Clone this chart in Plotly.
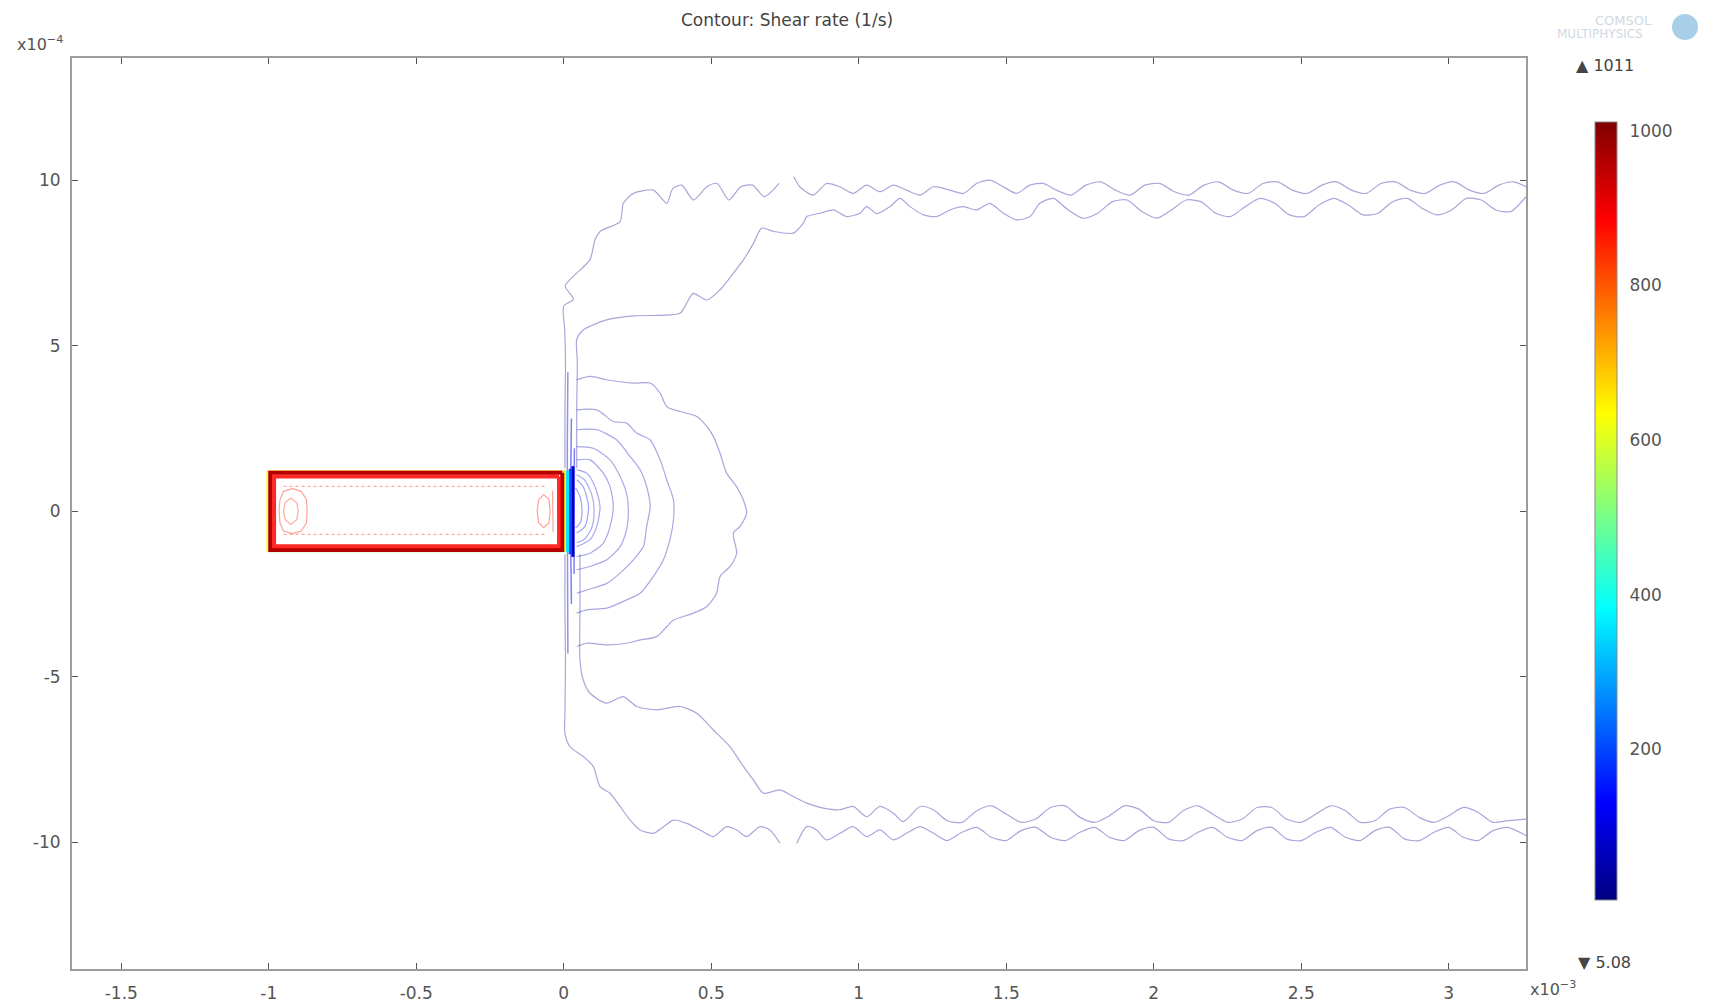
import plotly.graph_objects as go
from plotly.colors import sample_colorscale

# ---------------- axes / colour bar definitions ----------------
x_tick_vals = [-1.5, -1, -0.5, 0, 0.5, 1, 1.5, 2, 2.5, 3]
x_tick_text = ["-1.5", "-1", "-0.5", "0", "0.5", "1", "1.5", "2", "2.5", "3"]
y_tick_vals = [-10, -5, 0, 5, 10]
y_tick_text = ["-10", "-5", "0", "5", "10"]
x_range = [-1.667, 3.262]
y_range = [-13.83, 13.69]
cbar_tick_vals = [200, 400, 600, 800, 1000]
cbar_min = 5.08
cbar_max = 1011

jet = [[0.0, "rgb(0,0,128)"], [0.125, "rgb(0,0,255)"], [0.375, "rgb(0,255,255)"],
       [0.625, "rgb(255,255,0)"], [0.875, "rgb(255,0,0)"], [1.0, "rgb(128,0,0)"]]

# ---------------- contour lines (x in 1e-3 m, y in 1e-4 m) ----------------
upper_outer = [(0.004, 1.30), (0.004, 3.00), (0.006, 4.50), (0.003, 5.50), (0.000, 6.20), (0.033, 6.40),
               (0.005, 6.80), (0.033, 7.10), (0.089, 7.60), (0.106, 8.20), (0.123, 8.45), (0.191, 8.75),
               (0.202, 9.30), (0.236, 9.60), (0.304, 9.70), (0.349, 9.30), (0.370, 9.75), (0.400, 9.85),
               (0.440, 9.40), (0.485, 9.80), (0.520, 9.90), (0.560, 9.40), (0.600, 9.80), (0.640, 9.85),
               (0.680, 9.50), (0.730, 9.90), (None, None), (0.780, 10.10), (0.800, 9.80), (0.846, 9.55),
               (0.891, 9.90), (0.936, 9.80), (0.981, 9.60), (1.027, 9.85), (1.072, 9.65), (1.117, 9.85),
               (1.162, 9.70), (1.208, 9.55), (1.253, 9.80), (1.309, 9.70), (1.355, 9.60), (1.400, 9.90),
               (1.445, 10.00), (1.490, 9.80), (1.535, 9.60), (1.580, 9.85), (1.625, 9.90), (1.670, 9.70),
               (1.720, 9.55), (1.770, 9.85), (1.820, 9.95), (1.870, 9.70), (1.920, 9.55), (1.970, 9.85),
               (2.020, 9.90), (2.070, 9.65), (2.120, 9.55), (2.170, 9.85), (2.220, 9.95), (2.270, 9.70),
               (2.320, 9.60), (2.370, 9.90), (2.420, 9.95), (2.470, 9.70), (2.520, 9.60), (2.570, 9.85),
               (2.620, 9.95), (2.670, 9.70), (2.720, 9.60), (2.770, 9.90), (2.820, 9.95), (2.870, 9.70),
               (2.920, 9.60), (2.970, 9.85), (3.020, 9.95), (3.070, 9.70), (3.120, 9.60), (3.170, 9.85),
               (3.220, 9.95), (3.262, 9.80)]

upper_inner = [(0.044, 1.30), (0.044, 3.10), (0.046, 4.50), (0.044, 5.18), (0.067, 5.48), (0.145, 5.78),
               (0.236, 5.90), (0.394, 5.98), (0.417, 6.29), (0.439, 6.58), (0.485, 6.38), (0.530, 6.69),
               (0.575, 7.19), (0.609, 7.59), (0.643, 8.09), (0.671, 8.55), (0.711, 8.45), (0.778, 8.40),
               (0.812, 8.70), (0.824, 8.90), (0.869, 9.00), (0.914, 9.10), (0.959, 8.90), (1.004, 9.00),
               (1.027, 9.20), (1.061, 8.99), (1.106, 9.20), (1.140, 9.45), (1.174, 9.20), (1.219, 8.95),
               (1.264, 8.90), (1.309, 9.10), (1.355, 9.20), (1.399, 9.10), (1.445, 9.30), (1.490, 9.00),
               (1.535, 8.80), (1.581, 8.90), (1.614, 9.30), (1.660, 9.45), (1.710, 9.10), (1.760, 8.85),
               (1.810, 9.00), (1.860, 9.35), (1.910, 9.40), (1.960, 9.05), (2.010, 8.85), (2.060, 9.10),
               (2.110, 9.40), (2.160, 9.35), (2.210, 9.00), (2.260, 8.90), (2.310, 9.20), (2.360, 9.45),
               (2.410, 9.30), (2.460, 8.95), (2.510, 8.90), (2.560, 9.25), (2.610, 9.45), (2.660, 9.25),
               (2.710, 8.95), (2.760, 9.00), (2.810, 9.35), (2.860, 9.45), (2.910, 9.15), (2.960, 8.95),
               (3.010, 9.10), (3.060, 9.45), (3.110, 9.40), (3.160, 9.10), (3.210, 9.05), (3.262, 9.50)]

lower_outer = [(0.004, -1.30), (0.004, -3.00), (0.006, -4.50), (0.004, -6.10), (0.004, -6.71), (0.021, -7.11),
               (0.066, -7.41), (0.100, -7.71), (0.123, -8.32), (0.157, -8.52), (0.191, -8.92), (0.225, -9.33),
               (0.259, -9.63), (0.304, -9.73), (0.338, -9.53), (0.372, -9.33), (0.417, -9.43), (0.462, -9.63),
               (0.507, -9.83), (0.552, -9.53), (0.586, -9.63), (0.620, -9.83), (0.665, -9.53), (0.699, -9.63),
               (0.733, -10.03), (None, None), (0.790, -10.03), (0.824, -9.53), (0.857, -9.63), (0.891, -9.93),
               (0.936, -9.73), (0.981, -9.53), (1.027, -9.83), (1.072, -9.63), (1.117, -9.93), (1.162, -9.73),
               (1.208, -9.53), (1.253, -9.73), (1.300, -9.95), (1.350, -9.70), (1.400, -9.55), (1.450, -9.85),
               (1.500, -9.95), (1.550, -9.65), (1.600, -9.55), (1.650, -9.85), (1.700, -9.95), (1.750, -9.70),
               (1.800, -9.55), (1.850, -9.85), (1.900, -9.95), (1.950, -9.65), (2.000, -9.55), (2.050, -9.90),
               (2.100, -9.95), (2.150, -9.70), (2.200, -9.55), (2.250, -9.85), (2.300, -9.95), (2.350, -9.65),
               (2.400, -9.55), (2.450, -9.90), (2.500, -9.95), (2.550, -9.70), (2.600, -9.55), (2.650, -9.85),
               (2.700, -9.95), (2.750, -9.65), (2.800, -9.55), (2.850, -9.90), (2.900, -9.95), (2.950, -9.70),
               (3.000, -9.55), (3.050, -9.85), (3.100, -9.95), (3.150, -9.65), (3.200, -9.55), (3.262, -9.80)]

lower_inner = [(0.055, -1.30), (0.055, -3.00), (0.055, -4.49), (0.066, -5.10), (0.089, -5.50), (0.145, -5.80),
               (0.202, -5.60), (0.247, -5.90), (0.315, -6.00), (0.394, -5.90), (0.450, -6.10), (0.507, -6.61),
               (0.563, -7.11), (0.609, -7.71), (0.643, -8.12), (0.677, -8.52), (0.733, -8.42), (0.778, -8.62),
               (0.824, -8.82), (0.880, -8.97), (0.936, -9.02), (0.981, -8.92), (1.027, -9.23), (1.072, -8.92),
               (1.117, -9.12), (1.151, -9.38), (1.208, -8.92), (1.253, -9.02), (1.300, -9.35), (1.350, -9.40),
               (1.400, -9.05), (1.450, -8.90), (1.500, -9.15), (1.550, -9.40), (1.600, -9.30), (1.650, -8.95),
               (1.700, -8.90), (1.750, -9.25), (1.800, -9.40), (1.850, -9.20), (1.900, -8.90), (1.950, -9.00),
               (2.000, -9.35), (2.050, -9.40), (2.100, -9.05), (2.150, -8.90), (2.200, -9.15), (2.250, -9.40),
               (2.300, -9.30), (2.350, -8.95), (2.400, -8.95), (2.450, -9.30), (2.500, -9.40), (2.550, -9.15),
               (2.600, -8.90), (2.650, -9.05), (2.700, -9.40), (2.750, -9.35), (2.800, -9.00), (2.850, -8.95),
               (2.900, -9.25), (2.950, -9.40), (3.000, -9.20), (3.050, -8.95), (3.100, -9.10), (3.150, -9.40),
               (3.200, -9.35), (3.262, -9.30)]

loop_1 = [(0.044, 3.97), (0.089, 4.07), (0.146, 3.97), (0.236, 3.87), (0.293, 3.87), (0.327, 3.56),
          (0.349, 3.16), (0.394, 3.01), (0.451, 2.86), (0.485, 2.56), (0.507, 2.26), (0.530, 1.75),
          (0.552, 1.15), (0.586, 0.74), (0.609, 0.34), (0.620, -0.06), (0.598, -0.46), (0.575, -0.66),
          (0.586, -1.27), (0.564, -1.67), (0.530, -1.97), (0.518, -2.48), (0.485, -2.88), (0.440, -3.08),
          (0.372, -3.29), (0.349, -3.49), (0.315, -3.79), (0.259, -3.89), (0.213, -3.99), (0.146, -4.04),
          (0.078, -3.99), (0.044, -4.09)]
loop_2 = [(0.044, 3.06), (0.112, 3.06), (0.168, 2.71), (0.213, 2.66), (0.247, 2.36), (0.293, 2.15),
          (0.327, 1.55), (0.349, 0.95), (0.372, 0.34), (0.372, -0.26), (0.360, -0.86), (0.338, -1.47),
          (0.304, -1.97), (0.259, -2.48), (0.213, -2.68), (0.146, -2.93), (0.078, -2.98), (0.044, -3.08)]
loop_3 = [(0.044, 2.46), (0.112, 2.46), (0.180, 2.15), (0.225, 1.65), (0.259, 1.25), (0.281, 0.74),
          (0.293, 0.14), (0.281, -0.46), (0.270, -1.07), (0.236, -1.47), (0.191, -1.87), (0.146, -2.18),
          (0.078, -2.38), (0.044, -2.48)]
loop_4 = [(0.044, 1.95), (0.100, 1.90), (0.157, 1.55), (0.191, 1.05), (0.213, 0.54), (0.219, 0.04),
          (0.213, -0.56), (0.191, -1.07), (0.146, -1.47), (0.089, -1.67), (0.044, -1.77)]
loop_5 = [(0.044, 1.55), (0.089, 1.55), (0.134, 1.15), (0.157, 0.74), (0.168, 0.14), (0.157, -0.46),
          (0.134, -0.97), (0.089, -1.27), (0.044, -1.37)]
loop_6 = [(0.044, 1.25), (0.078, 1.15), (0.106, 0.74), (0.123, 0.14), (0.112, -0.46), (0.089, -0.86),
          (0.044, -1.07)]
loop_6b = [(0.044, 1.10), (0.070, 0.95), (0.095, 0.50), (0.103, 0.00), (0.095, -0.50), (0.070, -0.85),
           (0.044, -0.95)]
loop_7 = [(0.044, 0.95), (0.066, 0.74), (0.084, 0.14), (0.072, -0.46), (0.044, -0.66)]
loop_8 = [(0.040, 0.70), (0.055, 0.45), (0.062, 0.05), (0.056, -0.35), (0.040, -0.50)]

wall_1 = [(0.014, 4.20), (0.012, 2.00), (0.013, -2.00), (0.014, -4.30)]
wall_2 = [(0.026, 2.80), (0.024, 1.30), (0.024, -1.30), (0.026, -2.80)]
wall_3 = [(0.036, 1.90), (0.035, -1.90)]

exit_yellow = [(0.004, 1.21), (0.004, -1.22)]
exit_cyan = [(0.013, 1.22), (0.013, -1.24)]
exit_blue = [(0.022, 1.28), (0.022, -1.30)]
exit_navy = [(0.031, 1.36), (0.031, -1.38)]

rect_outer_top = [(0.004, 1.21), (-1.005, 1.21)]
rect_outer_left = [(-1.005, 1.21), (-1.005, -1.22)]
rect_outer_bottom = [(-1.005, -1.22), (0.004, -1.22)]
rect_band_1 = [(-0.005, 1.16), (-0.995, 1.16), (-0.995, -1.17), (-0.005, -1.17), (-0.005, 1.16)]
rect_band_2 = [(-0.016, 1.05), (-0.982, 1.05), (-0.982, -1.06), (-0.016, -1.06), (-0.016, 1.05)]
rect_inner_top = [(-0.950, 0.75), (-0.060, 0.75)]
rect_inner_bottom = [(-0.950, -0.70), (-0.060, -0.70)]
left_loop_outer = [(-0.920, 0.68), (-0.890, 0.60), (-0.872, 0.35), (-0.870, 0.00), (-0.872, -0.35),
                   (-0.890, -0.60), (-0.920, -0.68), (-0.950, -0.60), (-0.962, -0.35), (-0.965, 0.00),
                   (-0.962, 0.35), (-0.950, 0.60), (-0.920, 0.68)]
left_loop_inner = [(-0.925, 0.40), (-0.905, 0.25), (-0.900, 0.00), (-0.905, -0.25), (-0.925, -0.40),
                   (-0.945, -0.25), (-0.950, 0.00), (-0.945, 0.25), (-0.925, 0.40)]
right_loop = [(-0.068, 0.50), (-0.050, 0.35), (-0.046, 0.00), (-0.050, -0.35), (-0.068, -0.50),
              (-0.085, -0.35), (-0.090, 0.00), (-0.085, 0.35), (-0.068, 0.50)]
right_line = [(-0.038, 0.62), (-0.036, -0.62)]

# (name, points, level, width, opacity, dash)
contours = [
    ("upper_outer", upper_outer, 25, 1.2, 0.34, "solid"),
    ("upper_inner", upper_inner, 30, 1.2, 0.34, "solid"),
    ("lower_outer", lower_outer, 25, 1.2, 0.34, "solid"),
    ("lower_inner", lower_inner, 30, 1.2, 0.34, "solid"),
    ("loop_1", loop_1, 40, 1.2, 0.34, "solid"),
    ("loop_2", loop_2, 50, 1.2, 0.34, "solid"),
    ("loop_3", loop_3, 60, 1.2, 0.34, "solid"),
    ("loop_4", loop_4, 70, 1.2, 0.34, "solid"),
    ("loop_5", loop_5, 80, 1.2, 0.34, "solid"),
    ("loop_6", loop_6, 90, 1.2, 0.34, "solid"),
    ("loop_6b", loop_6b, 95, 1.2, 0.32, "solid"),
    ("loop_7", loop_7, 100, 1.2, 0.36, "solid"),
    ("loop_8", loop_8, 110, 1.2, 0.36, "solid"),
    ("wall_1", wall_1, 60, 1.5, 0.42, "solid"),
    ("wall_2", wall_2, 100, 1.5, 0.5, "solid"),
    ("wall_3", wall_3, 120, 1.5, 0.5, "solid"),
    ("exit_navy", exit_navy, 80, 3, 1.0, "solid"),
    ("exit_blue", exit_blue, 200, 3, 1.0, "solid"),
    ("exit_cyan", exit_cyan, 360, 3, 1.0, "solid"),
    ("exit_yellow", exit_yellow, 620, 2, 1.0, "solid"),
    ("rect_outer_top", rect_outer_top, 700, 2, 0.7, "solid"),
    ("rect_outer_left", rect_outer_left, 640, 2, 0.7, "solid"),
    ("rect_outer_bottom", rect_outer_bottom, 520, 2, 0.5, "solid"),
    ("rect_band_1", rect_band_1, 960, 4, 1.0, "solid"),
    ("rect_band_2", rect_band_2, 880, 4, 0.85, "solid"),
    ("rect_inner_top", rect_inner_top, 880, 1.2, 0.35, "dot"),
    ("rect_inner_bottom", rect_inner_bottom, 880, 1.2, 0.35, "dot"),
    ("left_loop_outer", left_loop_outer, 860, 1.2, 0.4, "solid"),
    ("left_loop_inner", left_loop_inner, 860, 1.2, 0.35, "solid"),
    ("right_loop", right_loop, 860, 1.2, 0.4, "solid"),
    ("right_line", right_line, 860, 1.2, 0.4, "solid"),
]

fig = go.Figure()
for name, pts, level, width, opac, dash in contours:
    xs = [p[0] for p in pts]
    ys = [p[1] for p in pts]
    col = sample_colorscale(jet, [(level - cbar_min) / (cbar_max - cbar_min)])[0]
    smooth = name.startswith(("upper", "lower", "loop"))
    fig.add_trace(go.Scatter(
        x=xs, y=ys, mode="lines", name=name, opacity=opac,
        line=dict(color=col, width=width, dash=dash, shape="spline" if smooth else "linear",
                  smoothing=0.7 if smooth else None),
        hoverinfo="skip", showlegend=False, connectgaps=False))

FONT = "DejaVu Sans"

# colour bar carrier
fig.add_trace(go.Scatter(
    x=[None], y=[None], mode="markers", showlegend=False, hoverinfo="skip",
    marker=dict(color=[cbar_min, cbar_max], cmin=cbar_min, cmax=cbar_max, colorscale=jet, showscale=True,
                colorbar=dict(x=1.0475, xanchor="left", xpad=0, y=0.5027, yanchor="middle", ypad=0,
                              len=778, lenmode="pixels", thickness=22, thicknessmode="pixels",
                              outlinewidth=1, outlinecolor="#8a8a8a", tickvals=cbar_tick_vals,
                              ticks="outside", ticklen=9, tickcolor="rgba(0,0,0,0)",
                              tickfont=dict(size=17, color="#555", family=FONT)))))

font_main = dict(family=FONT, size=17, color="#555")
axis_common = dict(showgrid=False, zeroline=False, showline=True, mirror="ticks", linecolor="#9c9c9c",
                   linewidth=2, ticks="inside", ticklen=6, tickcolor="#555", tickwidth=1,
                   tickfont=font_main, automargin=False)

fig.update_layout(
    width=1713, height=1004, autosize=False,
    margin=dict(l=72, r=187, t=58, b=35),
    paper_bgcolor="white", plot_bgcolor="white",
    xaxis=dict(range=x_range, tickvals=x_tick_vals, ticktext=x_tick_text, ticklabelstandoff=8, **axis_common),
    yaxis=dict(range=y_range, tickvals=y_tick_vals, ticktext=y_tick_text, ticklabelstandoff=6, **axis_common),
    annotations=[
        dict(text="Contour: Shear rate (1/s)", x=0.4917, y=1.0417, xref="paper", yref="paper",
             showarrow=False, font=dict(family=FONT, size=17, color="#444"),
             xanchor="center", yanchor="middle"),
        dict(text="x10<sup>−4</sup>", x=-0.022, y=1.0154, xref="paper", yref="paper", showarrow=False,
             font=dict(family=FONT, size=16, color="#555"), xanchor="center", yanchor="middle"),
        dict(text="x10<sup>−3</sup>", x=1.0186, y=-0.0209, xref="paper", yref="paper", showarrow=False,
             font=dict(family=FONT, size=16, color="#555"), xanchor="center", yanchor="middle"),
        dict(text="▲ 1011", x=1.0543, y=0.9923, xref="paper", yref="paper", showarrow=False,
             font=dict(family=FONT, size=16, color="#444"), xanchor="center", yanchor="middle"),
        dict(text="▼ 5.08", x=1.0543, y=0.0066, xref="paper", yref="paper", showarrow=False,
             font=dict(family=FONT, size=16, color="#444"), xanchor="center", yanchor="middle"),
        dict(text="COMSOL", x=(1623 - 72) / 1454, y=1 + (58 - 20) / 911, xref="paper", yref="paper",
             showarrow=False, font=dict(family=FONT, size=13, color="#d0d9e2"),
             xanchor="center", yanchor="middle"),
        dict(text="MULTIPHYSICS", x=(1600 - 72) / 1454, y=1 + (58 - 34) / 911, xref="paper", yref="paper",
             showarrow=False, font=dict(family=FONT, size=12, color="#d0d9e2"),
             xanchor="center", yanchor="middle"),
    ],
    shapes=[dict(type="circle", xref="paper", yref="paper",
                 x0=(1672 - 72) / 1454, x1=(1698 - 72) / 1454,
                 y0=1 + (58 - 40) / 911, y1=1 + (58 - 14) / 911,
                 fillcolor="#a9cfe8", line=dict(width=0), layer="above")],
)

fig.write_html("out.html", config={"displayModeBar": False},
               post_script="document.body.style.margin='0';document.body.style.overflow='hidden';")
